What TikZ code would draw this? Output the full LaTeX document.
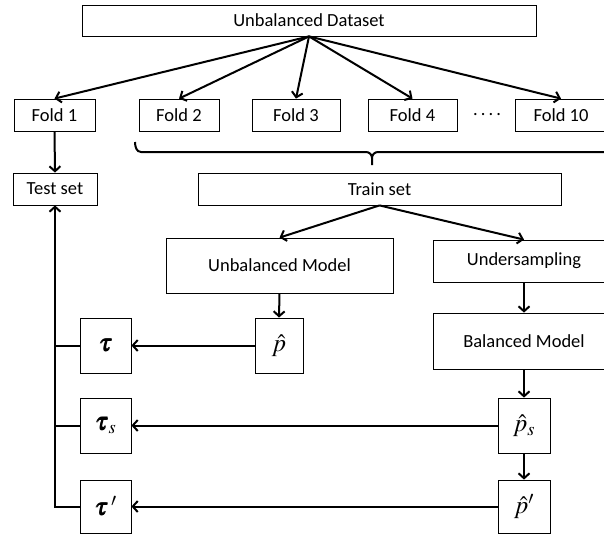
\documentclass[tikz,border=0pt]{standalone}
\usepackage{amsmath}
\usepackage{mathptmx}
\usepackage{bm}
\usepackage{fontspec}
\setmainfont{Carlito}
\usepackage{tikz}
\usetikzlibrary{arrows.meta,positioning}

\begin{document}
\begin{tikzpicture}[
    x=1pt, y=-1pt,
    box/.style={draw, line width=0.8pt, inner sep=0pt, align=center, font=\fontsize{18.5}{22}\selectfont},
    sym/.style={box, minimum width=51pt, minimum height=55pt, font=\fontsize{25}{28}\selectfont},
    arrow/.style={-{Straight Barb[length=5pt,width=11pt]}, line width=2pt},
    link/.style={line width=2pt}
]
\useasboundingbox (0,0) rectangle (604,533);

% Dataset and folds
\node[box, minimum width=454pt, minimum height=31pt] (data) at (309,20.5) {Unbalanced Dataset};
\node[box, minimum width=81pt, minimum height=32pt] (fold1) at (54.5,115) {Fold 1};
\node[box, minimum width=80pt, minimum height=32pt] (fold2) at (179,115) {Fold 2};
\node[box, minimum width=88pt, minimum height=32pt] (fold3) at (296,115) {Fold 3};
\node[box, minimum width=89pt, minimum height=32pt] (fold4) at (412.5,115) {Fold 4};
\node[font=\fontsize{18.5}{22}\selectfont] (dots) at (487,115) {.\,.\,.\,.};
\node[box, minimum width=92pt, minimum height=32pt] (fold10) at (561,115) {Fold 10};

% Test and train sets
\node[box, minimum width=84pt, minimum height=32pt] (test) at (55,189) {Test set};
\node[box, minimum width=363pt, minimum height=32pt] (train) at (379.5,189) {Train set};

% Models
\node[box, minimum width=227pt, minimum height=55pt] (unbal) at (279.5,265.5) {Unbalanced Model};
\node[box, minimum width=182pt, minimum height=42pt] (under) at (524,261) {Undersampling};
\node[box, minimum width=182pt, minimum height=56pt] (bal) at (524,341) {Balanced Model};

% Probabilities and thresholds
\node[sym, minimum width=48pt] (p) at (279,345.5) {$\hat{p}$};
\node[sym] (tau) at (105.5,345.5) {$\bm{\tau}$};
\node[sym, minimum width=52pt] (ps) at (524,425.5) {$\hat{p}_s$};
\node[sym] (taus) at (105.5,425.5) {$\bm{\tau}_s$};
\node[sym, minimum width=52pt, minimum height=53pt] (pp) at (524,506.5) {$\hat{p}'$};
\node[sym, minimum height=53pt] (taup) at (105.5,506.5) {$\bm{\tau}\,'$};

% Split arrows
\foreach \f in {fold1,fold2,fold3,fold4,fold10}
    \draw[arrow] (data.south) -- (\f.north);
\draw[arrow] (fold1.south) -- (test.north);

% Brace over the training folds
\draw[link] (135,142) to[out=-90,in=180] (141,152) -- (366,152)
    to[out=0,in=90] (372,158) -- (372,165);
\draw[link] (372,158) to[out=90,in=180] (378,152) -- (610,152);

% Model flow
\draw[arrow] (train.south) -- (unbal.north);
\draw[arrow] (train.south) -- (under.north);
\draw[arrow] (unbal.south) -- (p.north);
\draw[arrow] (under.south) -- (bal.north);
\draw[arrow] (bal.south) -- (ps.north);
\draw[arrow] (ps.south) -- (pp.north);

% Thresholds
\draw[arrow] (p.west) -- (tau.east);
\draw[arrow] (ps.west) -- (taus.east);
\draw[arrow] (pp.west) -- (taup.east);

% Back to the test set
\draw[arrow] (taup.west) -| (test.south);
\draw[link] (tau.west) -- (tau.west -| test.south);
\draw[link] (taus.west) -- (taus.west -| test.south);
\end{tikzpicture}
\end{document}
